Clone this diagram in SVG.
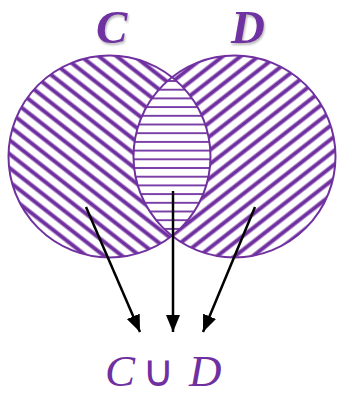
<svg xmlns="http://www.w3.org/2000/svg" width="337" height="396" viewBox="0 0 337 396">
  <style>
    .outline { fill: none; stroke: #7030A0; stroke-width: 2; }
    .hatch { stroke: #7030A0; stroke-width: 4; }
    .hline { stroke: #7030A0; stroke-width: 1.8; }
    .conn { stroke: #000; stroke-width: 2.5; fill: none; marker-end: url(#arrow); }
    .title { font-family: "Liberation Serif", "DejaVu Serif", serif; font-style: italic; font-weight: bold; font-size: 47px; fill: #7030A0; }
    .label { font-family: "Liberation Serif", "DejaVu Serif", serif; font-style: italic; font-size: 45px; fill: #7030A0; }
    .sym { font-family: "DejaVu Sans", sans-serif; font-size: 44px; fill: #7030A0; }
  </style>
  <defs>
    <pattern id="hatchL" patternUnits="userSpaceOnUse" width="20" height="11" patternTransform="rotate(38)">
      <line x1="0" y1="5.5" x2="20" y2="5.5" class="hatch"/>
    </pattern>
    <pattern id="hatchR" patternUnits="userSpaceOnUse" width="20" height="11" patternTransform="rotate(-38)">
      <line x1="0" y1="5.5" x2="20" y2="5.5" class="hatch"/>
    </pattern>
    <pattern id="hatchH" patternUnits="userSpaceOnUse" x="0" y="81" width="20" height="8.7">
      <line x1="0" y1="0" x2="20" y2="0" class="hline"/>
      <line x1="0" y1="8.7" x2="20" y2="8.7" class="hline"/>
    </pattern>
    <marker id="arrow" markerUnits="userSpaceOnUse" markerWidth="18" markerHeight="14" refX="17" refY="7" orient="auto">
      <path d="M0,0 L17,7 L0,14 Z" fill="#000"/>
    </marker>
    <filter id="shadow" x="-20%" y="-20%" width="140%" height="140%">
      <feDropShadow dx="1" dy="2" stdDeviation="1.2" flood-color="#888" flood-opacity="0.6"/>
    </filter>
  </defs>

  <g id="label-C">
    <text x="96" y="43" class="title" filter="url(#shadow)">C</text>
  </g>
  <g id="label-D">
    <text x="231" y="43" class="title" filter="url(#shadow)">D</text>
  </g>

  <g id="set-C">
    <circle cx="109.5" cy="156.5" r="101" fill="url(#hatchL)"/>
  </g>
  <g id="set-D">
    <circle cx="234.5" cy="156.5" r="101" fill="url(#hatchR)"/>
  </g>
  <g id="intersection">
    <path d="M172,77.2 A101,101 0 0,1 172,235.8 A101,101 0 0,1 172,77.2 Z" fill="#fff"/>
    <path d="M172,77.2 A101,101 0 0,1 172,235.8 A101,101 0 0,1 172,77.2 Z" fill="url(#hatchH)"/>
  </g>
  <g id="outlines">
    <circle cx="109.5" cy="156.5" r="101" class="outline"/>
    <circle cx="234.5" cy="156.5" r="101" class="outline"/>
  </g>

  <g id="connectors">
    <line x1="86" y1="207" x2="140" y2="332" class="conn"/>
    <line x1="173" y1="191" x2="173" y2="332" class="conn"/>
    <line x1="255" y1="207" x2="203" y2="332" class="conn"/>
  </g>

  <g id="label-union">
    <text x="105" y="386" class="label">C</text>
    <text x="158" y="386" class="sym" text-anchor="middle">∪</text>
    <text x="189" y="386" class="label">D</text>
  </g>
</svg>
